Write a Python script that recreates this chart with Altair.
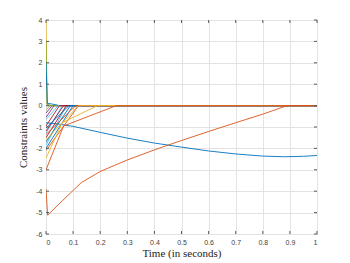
import altair as alt
import pandas as pd

# MATLAB default colour order
BLUE, ORANGE, YELLOW, PURPLE, GREEN, LBLUE, DRED = (
    "#0072BD", "#D95319", "#EDB120", "#7E2F8E", "#77AC30", "#4DBEEE", "#A2142F")

# long slow constraints
blue_long_x = [0, 0.05, 0.1, 0.2, 0.3, 0.4, 0.5, 0.6, 0.7, 0.8, 0.88, 0.95, 1.0]
blue_long_y = [-0.8, -0.87, -0.97, -1.25, -1.52, -1.75, -1.94, -2.12, -2.26, -2.36, -2.39, -2.37, -2.33]

orange_long_x = [0, 0.006, 0.06, 0.13, 0.2, 0.3, 0.4, 0.5, 0.6, 0.7, 0.8, 0.89, 1.0]
orange_long_y = [-3.9, -5.12, -4.45, -3.6, -3.08, -2.54, -2.07, -1.63, -1.21, -0.8, -0.4, 0, 0]

# initial spikes
spike_yellow_x = [0, 0.004, 0.02, 1.0]
spike_yellow_y = [4, 0.05, 0, 0]
spike_green_x = [0, 0.004, 0.02, 1.0]
spike_green_y = [3, 0.05, 0, 0]
spike_blue_x = [0, 0.005, 0.02, 0.05, 1.0]
spike_blue_y = [2, 0.1, 0.08, 0, 0]

# short constraints: start value at t=0, time reaching zero, colour
short_start = [-0.35, -0.55, -0.2, -0.65, -1.3, -1.85, -0.95, -1.2, -1.5, -1.05, -1.7, -2.0, -1.35, -2.1, -1.6]
short_zero = [0.022, 0.03, 0.015, 0.045, 0.06, 0.075, 0.05, 0.065, 0.075, 0.085, 0.09, 0.1, 0.11, 0.12, 0.12]
short_color = [PURPLE, PURPLE, GREEN, LBLUE, LBLUE, LBLUE, DRED, DRED, DRED, BLUE, BLUE, BLUE, ORANGE, ORANGE, YELLOW]

# kinked constraints
kink_yellow_x = [0, 0.06, 0.19, 1.0]
kink_yellow_y = [-2.45, -0.8, 0, 0]
kink_orange_x = [0, 0.065, 0.26, 1.0]
kink_orange_y = [-3.0, -0.95, 0, 0]

x_ticks = [0, 0.1, 0.2, 0.3, 0.4, 0.5, 0.6, 0.7, 0.8, 0.9, 1]
y_ticks = [-6, -5, -4, -3, -2, -1, 0, 1, 2, 3, 4]

series = []
series.append((blue_long_x, blue_long_y, BLUE))
series.append((spike_yellow_x, spike_yellow_y, YELLOW))
series.append((spike_green_x, spike_green_y, GREEN))
series.append((spike_blue_x, spike_blue_y, BLUE))
for s, z, c in zip(short_start, short_zero, short_color):
    series.append(([0, z, 1.0], [s, 0, 0], c))
series.append((kink_yellow_x, kink_yellow_y, YELLOW))
series.append((orange_long_x, orange_long_y, ORANGE))
series.append((kink_orange_x, kink_orange_y, ORANGE))

rows = []
names, colors = [], []
for i, (xs, ys, c) in enumerate(series):
    name = f"s{i:02d}"
    names.append(name)
    colors.append(c)
    for j, (xv, yv) in enumerate(zip(xs, ys)):
        rows.append({"t": xv, "v": yv, "s": name, "k": j})
df = pd.DataFrame(rows)

W, H = 271, 214
FRAME = "#5a5a5a"
lab_expr = "replace(format(datum.value, '~g'), '\u2212', '-')"

xscale = alt.Scale(domain=[0, 1], nice=False, zero=False)
yscale = alt.Scale(domain=[-6, 4], nice=False, zero=False)
xaxis = alt.Axis(values=x_ticks, title="Time (in seconds)", labelExpr=lab_expr,
                 grid=True, ticks=False, domain=False, labelPadding=4)
yaxis = alt.Axis(values=y_ticks, title="Constraints values", labelExpr=lab_expr,
                 grid=True, ticks=False, domain=False, labelPadding=4)

lines = alt.Chart(df).mark_line(strokeWidth=0.9, clip=True).encode(
    x=alt.X("t:Q", scale=xscale, axis=xaxis),
    y=alt.Y("v:Q", scale=yscale, axis=yaxis),
    color=alt.Color("s:N", scale=alt.Scale(domain=names, range=colors), legend=None),
    detail="s:N",
    order="k:Q",
)

xt = pd.DataFrame({"t": x_ticks})
yt = pd.DataFrame({"v": y_ticks})
bottom = alt.Chart(xt).mark_rule(color=FRAME, strokeWidth=1).encode(
    x=alt.X("t:Q", scale=xscale, axis=xaxis), y=alt.value(H), y2=alt.value(H - 3))
top = alt.Chart(xt).mark_rule(color=FRAME, strokeWidth=1).encode(
    x=alt.X("t:Q", scale=xscale, axis=xaxis), y=alt.value(0), y2=alt.value(3))
left = alt.Chart(yt).mark_rule(color=FRAME, strokeWidth=1).encode(
    y=alt.Y("v:Q", scale=yscale, axis=yaxis), x=alt.value(0), x2=alt.value(3))
right = alt.Chart(yt).mark_rule(color=FRAME, strokeWidth=1).encode(
    y=alt.Y("v:Q", scale=yscale, axis=yaxis), x=alt.value(W), x2=alt.value(W - 3))

chart = alt.layer(lines, bottom, top, left, right).properties(
    width=W, height=H,
    autosize=alt.AutoSizeParams(type="none"),
    padding={"left": 38, "top": 12, "right": 20, "bottom": 30},
).configure_view(
    stroke=FRAME, strokeWidth=1
).configure_axis(
    gridColor="#e3e3e3", gridWidth=1,
    labelFont="Liberation Sans", labelFontSize=7, labelColor="#404040",
    titleFont="Liberation Serif", titleFontSize=11, titleFontWeight="normal", titleColor="#222",
).configure_axisX(titlePadding=2).configure_axisY(titlePadding=7)

chart.save("out.html", embed_options={"renderer": "svg", "actions": False})
